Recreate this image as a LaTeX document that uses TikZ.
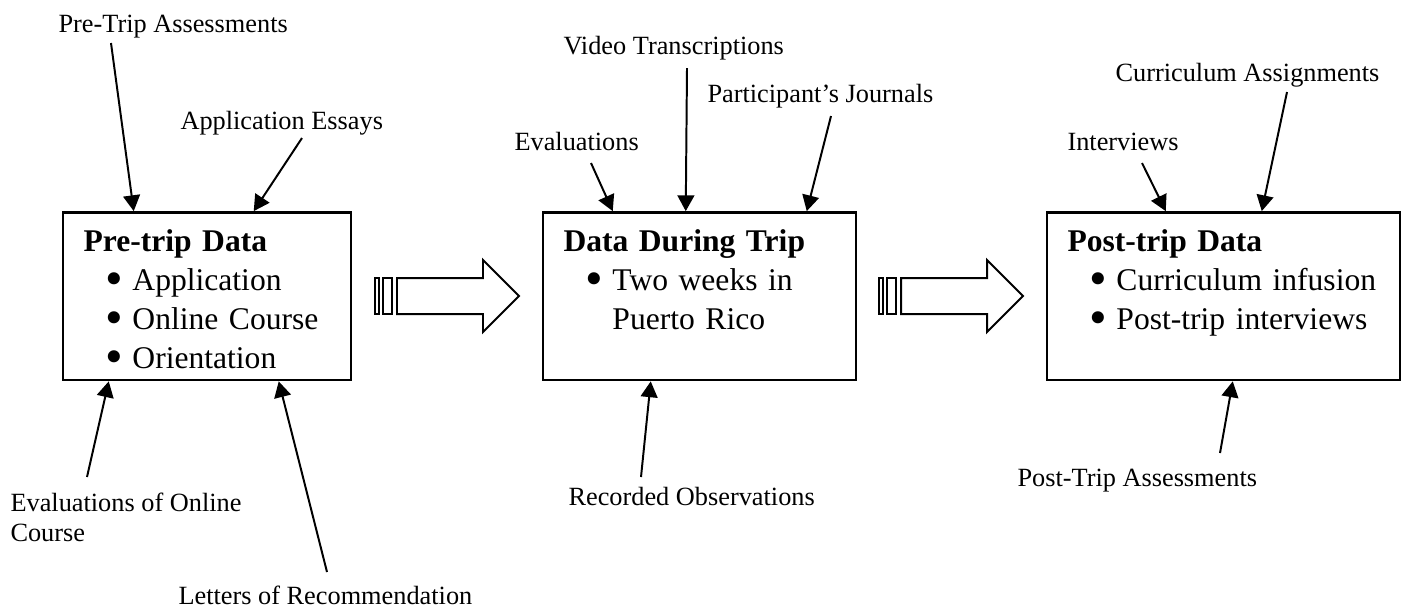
\documentclass[tikz,border=0pt]{standalone}
\usepackage{fontspec}
\setmainfont{Liberation Serif}
\usetikzlibrary{arrows.meta}
\newcommand\bul{\hspace*{8.5pt}\makebox[10.1pt][l]{\smash{\raisebox{-0.35ex}{\scalebox{1.6}{\textbullet}}}}}

\begin{document}
\begin{tikzpicture}[x=0.38pt,y=-0.38pt,>={Triangle[length=6pt,width=6.4pt]},
  box/.style={draw,line width=1pt,inner sep=0pt,minimum height=63.7pt},
  boxtext/.style={anchor=base west,inner sep=0pt,text width=130pt,align=left,
    font=\fontsize{12}{14.8}\selectfont},
  lbl/.style={anchor=base west,inner sep=0pt,font=\fontsize{10}{11.5}\selectfont},
  feed/.style={->,line width=0.75pt},
  bigarrow/.style={draw,line width=0.75pt,line join=miter}]
  \useasboundingbox (0,0) rectangle (1411,610);

  % the three boxes
  \node[box,minimum width=109.4pt] (pre)  at (207,296.25)   {};
  \node[box,minimum width=118.9pt] (dur)  at (699.5,296.25) {};
  \node[box,minimum width=134.1pt] (post) at (1223.5,296.25) {};

  \node[boxtext] (pret)  at (83,251.7)   {\textbf{Pre-trip Data}\\ \bul Application\\ \bul Online Course\\ \bul Orientation};
  \node[boxtext] (durt)  at (563,251.7)  {\textbf{Data During Trip}\\ \bul Two weeks in\\ \hspace*{18.6pt}Puerto Rico};
  \node[boxtext] (postt) at (1067,251.7) {\textbf{Post-trip Data}\\ \bul Curriculum infusion\\ \bul Post-trip interviews};

  % block arrows between the boxes
  \foreach \dx in {0,504} {
    \begin{scope}[shift={(\dx,0)}]
      \draw[bigarrow] (375,278) rectangle (379,314);
      \draw[bigarrow] (383,278) rectangle (392,314);
      \draw[bigarrow] (397,278) -- (483,278) -- (483,260) -- (519,296)
        -- (483,332) -- (483,314) -- (397,314) -- cycle;
    \end{scope}
  }

  % sources
  \node[lbl] (pta) at (58,32.5)   {Pre-Trip Assessments};
  \node[lbl] (ae)  at (180,129)   {Application Essays};
  \node[lbl,anchor=north west,align=left] (eoc) at (10,492) {Evaluations of Online\\Course};
  \node[lbl] (lor) at (178,604)   {Letters of Recommendation};
  \node[lbl] (ev)  at (514,150.5) {Evaluations};
  \node[lbl] (vt)  at (563,54)    {Video Transcriptions};
  \node[lbl] (pj)  at (707,102.5) {Participant's Journals};
  \node[lbl] (ro)  at (568,505)   {Recorded Observations};
  \node[lbl] (iv)  at (1067,150.5) {Interviews};
  \node[lbl] (ca)  at (1115,81)   {Curriculum Assignments};
  \node[lbl] (ptb) at (1017,486)  {Post-Trip Assessments};

  \coordinate (c1)  at (111,43);
  \coordinate (c2)  at (302,138);
  \coordinate (c3)  at (87,477);
  \coordinate (c4)  at (327,572);
  \coordinate (c5)  at (591,163);
  \coordinate (c6)  at (687,68);
  \coordinate (c7)  at (831,116);
  \coordinate (c8)  at (641,477);
  \coordinate (c9)  at (1142,163);
  \coordinate (c10) at (1287,92);
  \coordinate (c11) at (1220,453);

  \draw[feed] (c1)  -- ([shift={(72,0)}]pre.north west);
  \draw[feed] (c2)  -- ([shift={(192,0)}]pre.north west);
  \draw[feed] (c3)  -- ([shift={(47,0)}]pre.south west);
  \draw[feed] (c4)  -- ([shift={(217,0)}]pre.south west);
  \draw[feed] (c5)  -- ([shift={(71,0)}]dur.north west);
  \draw[feed] (c6)  -- ([shift={(144,0)}]dur.north west);
  \draw[feed] (c7)  -- ([shift={(265,0)}]dur.north west);
  \draw[feed] (c8)  -- ([shift={(109,0)}]dur.south west);
  \draw[feed] (c9)  -- ([shift={(120,0)}]post.north west);
  \draw[feed] (c10) -- ([shift={(216,0)}]post.north west);
  \draw[feed] (c11) -- ([shift={(187,0)}]post.south west);
\end{tikzpicture}
\end{document}
